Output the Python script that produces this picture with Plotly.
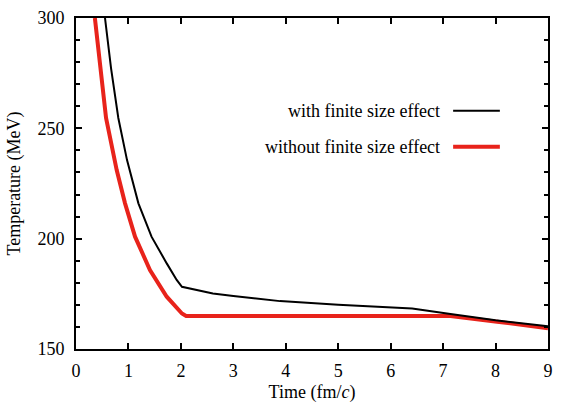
import plotly.graph_objects as go

# with finite size effect (black)
t_with = [0.553, 0.668, 0.807, 0.973, 1.19, 1.44, 1.73, 1.92, 2.02, 2.29, 2.61, 3.0, 3.89, 5.0, 5.8, 6.41, 7.14, 8.0, 9.0]
T_with = [300, 277.3, 254.7, 235.6, 216.0, 200.9, 188.8, 181.3, 178.2, 176.7, 175.2, 174.0, 171.7, 170.0, 168.9, 168.4, 165.9, 163.0, 160.3]

# without finite size effect (red)
t_without = [0.36, 0.464, 0.573, 0.776, 0.935, 1.126, 1.41, 1.73, 2.02, 2.1, 3.0, 5.0, 7.14, 8.03, 9.0]
T_without = [300, 277.3, 254.7, 231.1, 216.0, 200.9, 185.8, 173.7, 166.1, 165.0, 165.0, 165.0, 165.0, 162.4, 159.4]

labels = ["with finite size effect", "without finite size effect"]

font = "Liberation Serif"
fsize = 18
red = "#e8231b"

fig = go.Figure()
fig.add_trace(go.Scatter(x=t_without, y=T_without, mode="lines",
                         line=dict(color=red, width=4), name=labels[1], showlegend=False))
fig.add_trace(go.Scatter(x=t_with, y=T_with, mode="lines",
                         line=dict(color="black", width=2), name=labels[0], showlegend=False))

axis = dict(showline=True, linecolor="black", linewidth=2, mirror="ticks",
            ticks="inside", ticklen=6, tickwidth=1.5, tickcolor="black",
            showgrid=False, zeroline=False, automargin=False,
            tickfont=dict(family=font, size=fsize, color="black"))

fig.update_xaxes(range=[0, 9], dtick=1, ticklabelstandoff=4,
                 title=dict(text="Time (fm/<i>c</i>)", standoff=6,
                            font=dict(family=font, size=fsize, color="black")), **axis)
fig.update_yaxes(range=[150, 300], dtick=50, ticklabelstandoff=6,
                 title=dict(text="Temperature (MeV)", standoff=12,
                            font=dict(family=font, size=fsize, color="black")),
                 minor=dict(dtick=10, ticks="inside", ticklen=4, tickwidth=1.5, tickcolor="black"),
                 **axis)

# legend drawn by hand: text on the left, line sample on the right
for i, (lab, col, w) in enumerate([(labels[0], "black", 2), (labels[1], red, 4)]):
    yy = 0.72 - i * 0.109
    fig.add_annotation(x=0.775, y=yy, xref="paper", yref="paper", text=lab, showarrow=False,
                       xanchor="right", yanchor="middle",
                       font=dict(family=font, size=fsize, color="black"))
    fig.add_shape(type="line", xref="paper", yref="paper", x0=0.799, x1=0.898, y0=yy, y1=yy,
                  line=dict(color=col, width=w))

fig.update_layout(width=581, height=407, margin=dict(l=76, r=33, t=18, b=58),
                  plot_bgcolor="white", paper_bgcolor="white",
                  font=dict(family=font, color="black"))

# the page body has an 8px margin by default; drop it so the figure sits at 0,0
fig.write_html("out.html", config={"displayModeBar": False},
               post_script="document.body.style.margin='0';")
